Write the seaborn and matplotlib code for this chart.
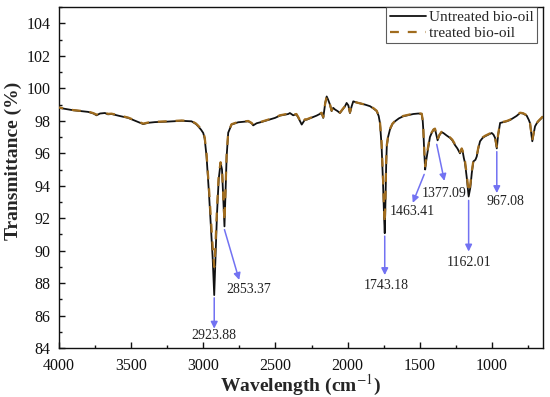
import matplotlib
matplotlib.use('Agg')
import matplotlib.pyplot as plt
from matplotlib.ticker import MultipleLocator
import seaborn as sns
import pandas as pd

# FTIR spectra (wavenumber cm-1, transmittance %)
wavenumber = [
    4000, 3900, 3797, 3760, 3739, 3715, 3681, 3660, 3635, 3580,
    3520, 3470, 3416, 3380, 3335, 3250, 3150, 3081, 3050, 3035,
    3015, 3000, 2990, 2977, 2960, 2945, 2935, 2924, 2915, 2905,
    2893, 2880, 2870, 2862, 2853, 2846, 2838, 2827, 2804, 2758,
    2688, 2665, 2654, 2630, 2596, 2503, 2469, 2411, 2400, 2377,
    2355, 2342, 2318, 2296, 2284, 2215, 2180, 2169, 2155, 2145,
    2135, 2122, 2111, 2100, 2088, 2070, 2053, 2035, 2018, 2007,
    1995, 1984, 1972, 1961, 1945, 1926, 1880, 1845, 1820, 1799,
    1785, 1776, 1765, 1755, 1748, 1743, 1738, 1733, 1729, 1720,
    1707, 1690, 1672, 1645, 1615, 1580, 1545, 1510, 1487, 1480,
    1476, 1470, 1463, 1455, 1441, 1430, 1418, 1405, 1395, 1385,
    1377, 1365, 1350, 1337, 1315, 1291, 1275, 1256, 1240, 1222,
    1210, 1203, 1195, 1187, 1175, 1162, 1150, 1140, 1129, 1115,
    1106, 1095, 1083, 1065, 1048, 1025, 1002, 990, 979, 967,
    958, 944, 920, 898, 875, 852, 830, 806, 785, 760,
    745, 737, 728, 721, 712, 702, 690, 679, 656, 648,
]
untreated = [
    98.80, 98.65, 98.55, 98.45, 98.34, 98.45, 98.48, 98.40, 98.42, 98.30,
    98.18, 98.00, 97.80, 97.88, 97.92, 97.95, 98.00, 97.97, 97.80, 97.66,
    97.45, 97.25, 96.90, 95.80, 93.50, 91.20, 89.60, 87.27, 89.50, 92.20,
    94.40, 95.40, 95.00, 93.30, 91.50, 93.50, 95.80, 97.27, 97.77, 97.91,
    97.97, 97.85, 97.72, 97.85, 97.93, 98.18, 98.32, 98.42, 98.48, 98.34,
    98.40, 98.20, 97.77, 98.07, 98.07, 98.32, 98.48, 98.18, 99.10, 99.50,
    99.30, 98.99, 98.60, 98.80, 98.70, 98.60, 98.48, 98.70, 98.90, 99.10,
    98.95, 98.48, 98.90, 99.20, 99.15, 99.10, 99.00, 98.90, 98.75, 98.60,
    98.30, 97.86, 96.50, 94.20, 92.20, 91.08, 93.00, 95.30, 96.40, 97.00,
    97.46, 97.80, 97.97, 98.15, 98.28, 98.35, 98.42, 98.45, 98.42, 98.00,
    97.46, 96.20, 95.00, 95.60, 96.40, 97.00, 97.25, 97.45, 97.50, 97.10,
    96.80, 97.10, 97.30, 97.25, 97.10, 96.95, 96.80, 96.50, 96.30, 96.00,
    96.25, 96.10, 95.70, 95.40, 94.50, 93.34, 93.90, 94.80, 95.50, 95.60,
    95.80, 96.30, 96.74, 96.95, 97.05, 97.15, 97.25, 97.15, 96.95, 96.30,
    97.10, 97.87, 97.92, 97.97, 98.05, 98.18, 98.30, 98.48, 98.45, 98.32,
    98.05, 97.86, 97.20, 96.74, 97.20, 97.66, 97.85, 97.97, 98.18, 98.25,
]
treated = [
    98.82, 98.66, 98.57, 98.47, 98.38, 98.47, 98.50, 98.43, 98.44, 98.33,
    98.20, 98.02, 97.83, 97.90, 97.94, 97.97, 98.02, 97.99, 97.83, 97.70,
    97.50, 97.30, 96.98, 95.95, 93.80, 91.70, 90.30, 89.00, 90.40, 92.60,
    94.60, 95.45, 95.05, 93.50, 91.80, 93.70, 95.90, 97.30, 97.79, 97.93,
    97.99, 97.87, 97.75, 97.87, 97.95, 98.20, 98.34, 98.44, 98.50, 98.37,
    98.42, 98.23, 97.80, 98.09, 98.09, 98.34, 98.50, 98.22, 99.10, 99.48,
    99.28, 99.00, 98.63, 98.82, 98.72, 98.62, 98.50, 98.72, 98.90, 99.08,
    98.95, 98.52, 98.90, 99.18, 99.14, 99.10, 99.00, 98.91, 98.77, 98.62,
    98.33, 97.92, 96.70, 94.50, 92.60, 91.70, 93.40, 95.50, 96.50, 97.05,
    97.50, 97.82, 97.99, 98.17, 98.30, 98.37, 98.44, 98.47, 98.44, 98.05,
    97.52, 96.35, 95.20, 95.75, 96.50, 97.05, 97.28, 97.47, 97.52, 97.15,
    96.85, 97.13, 97.32, 97.28, 97.13, 96.98, 96.84, 96.55, 96.36, 96.08,
    96.30, 96.15, 95.80, 95.50, 94.70, 93.60, 94.10, 94.90, 95.55, 95.65,
    95.85, 96.35, 96.78, 96.98, 97.08, 97.18, 97.28, 97.18, 96.98, 96.40,
    97.15, 97.89, 97.94, 97.99, 98.07, 98.20, 98.32, 98.50, 98.47, 98.35,
    98.08, 97.90, 97.25, 96.80, 97.25, 97.70, 97.87, 97.99, 98.20, 98.27,
]

# peak labels: (text, arrow tail, arrow head, label position)
peak_labels = ['2923.88', '2853.37', '1743.18', '1463.41', '1377.09', '1162.01', '967.08']
arrow_tail = [(2923.88, 87.1), (2853, 91.3), (1743, 90.9), (1470, 94.7),
              (1383, 96.55), (1162, 93.1), (967, 96.1)]
arrow_head = [(2923.88, 85.2), (2751, 88.2), (1743, 88.5), (1549, 92.95),
              (1330, 94.3), (1162, 89.95), (967, 93.55)]
label_pos = [(2923.88, 84.75), (2688, 87.6), (1735, 87.85), (1551, 92.4),
             (1333, 93.5), (1162, 89.27), (910, 93.05)]

df = pd.DataFrame({'wn': wavenumber, 'Untreated bio-oil': untreated,
                   'treated bio-oil': treated})

sns.set_style('ticks')
plt.rcParams['font.family'] = ['Liberation Serif', 'DejaVu Serif']
plt.rcParams['mathtext.fontset'] = 'stix'

fig = plt.figure(figsize=(5.5, 3.97), dpi=100)
ax = fig.add_axes([0.107, 0.123, 0.88, 0.859])

sns.lineplot(data=df, x='wn', y='Untreated bio-oil', ax=ax, color='#111111',
             lw=1.3, label='Untreated bio-oil', zorder=2)
sns.lineplot(data=df, x='wn', y='treated bio-oil', ax=ax, color='#a06c1e',
             lw=1.6, dashes=False, label='treated bio-oil', zorder=3,
             linestyle=(0, (4, 4)))

arrow_color = '#7272f2'
for txt, tail, head, pos in zip(peak_labels, arrow_tail, arrow_head, label_pos):
    ax.annotate('', xy=head, xytext=tail,
                arrowprops=dict(arrowstyle='-|>', color=arrow_color, lw=1.1,
                                mutation_scale=10, shrinkA=0, shrinkB=0))
    ax.text(pos[0], pos[1], txt, ha='center', va='center', fontsize=10,
            color='#222222')

ax.set_xlim(4000, 648)
ax.set_ylim(84, 105)
ax.xaxis.set_major_locator(MultipleLocator(500))
ax.xaxis.set_minor_locator(MultipleLocator(250))
ax.yaxis.set_major_locator(MultipleLocator(2))
ax.yaxis.set_minor_locator(MultipleLocator(1))
ax.tick_params(which='both', direction='in', top=False, right=False,
               labelsize=11.5, width=1, colors='#111111')
ax.tick_params(which='major', length=4)
ax.tick_params(which='minor', length=2.5)
ax.tick_params(axis='x', pad=7)
ax.tick_params(axis='y', pad=6)
for s in ax.spines.values():
    s.set_linewidth(1.0)
    s.set_color('#111111')

ax.set_xlabel('Wavelength (cm$^{-1}$)', fontsize=14, fontweight='bold')
ax.set_ylabel('Transmittance (%)', fontsize=14, fontweight='bold')
ax.xaxis.set_label_coords(0.5, -0.074)
ax.yaxis.set_label_coords(-0.077, 0.55)

leg = ax.legend(loc='upper right', bbox_to_anchor=(0.988, 1.0), fontsize=11,
                frameon=True, fancybox=False, borderpad=0.2, handlelength=2.4,
                handletextpad=0.2, labelspacing=0.15, borderaxespad=0)
leg.get_frame().set_edgecolor('#333333')
leg.get_frame().set_linewidth(0.8)

fig.savefig('out.png', dpi=100)
